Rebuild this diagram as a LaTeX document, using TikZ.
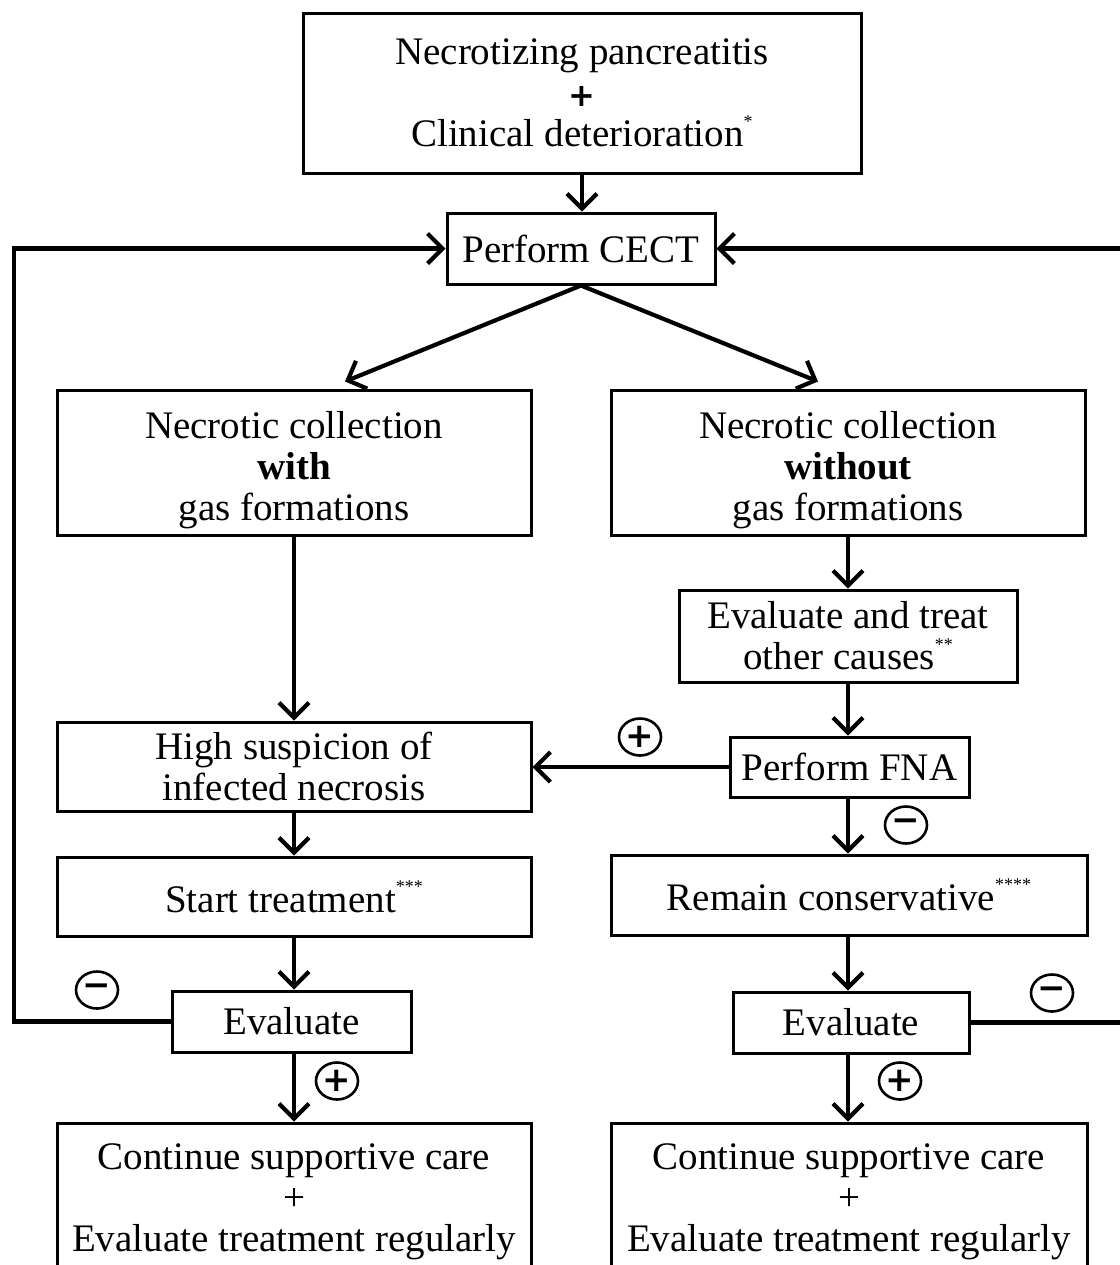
\documentclass[tikz,border=0pt]{standalone}
\usepackage{fontspec}
\setmainfont{Liberation Serif}
\newfontfamily\signfont{DejaVu Sans}
\usetikzlibrary{arrows.meta,shapes.geometric}
\newcommand{\noteast}[1]{\raisebox{1.1ex}{\fontsize{9}{9}\selectfont #1}}
\begin{document}
\begin{tikzpicture}[x=0.5pt,y=-0.5pt,
  box/.style={draw,line width=1.5pt,align=center,inner sep=0pt,font=\fontsize{19.5}{20.5}\selectfont},
  arr/.style={line width=2.1pt,-{Straight Barb[length=7.5pt,width=15pt,line width=2.1pt]}},
  sign/.style={ellipse,draw,line width=1.3pt,minimum width=21pt,minimum height=18.5pt,inner sep=0pt,font=\signfont\bfseries\fontsize{17}{17}\selectfont}]
\useasboundingbox (0,0) rectangle (1120,1265);
\fill[white] (0,0) rectangle (1120,1265);
\clip (0,0) rectangle (1120,1265);
% boxes
\node[box,minimum width=279pt,minimum height=80pt] (top) at (582,93) {Necrotizing pancreatitis\\ \raisebox{-0.5pt}[0pt][0pt]{\signfont\bfseries\fontsize{16}{20.5}\selectfont +}\\ Clinical deterioration\noteast{*}};
\node[box,minimum width=134pt,minimum height=35.5pt] (cect) at (581,248.5) {Perform CECT};
\node[box,minimum width=237pt,minimum height=72.5pt] (lc) at (294,462.5) {\rule{0pt}{21pt}Necrotic collection\\ \textbf{with}\\ gas formations};
\node[box,minimum width=237pt,minimum height=72.5pt] (rc) at (848,462.5) {\rule{0pt}{21pt}Necrotic collection\\ \textbf{without}\\ gas formations};
\node[box,minimum width=169pt,minimum height=46pt] (evt) at (848,636) {Evaluate and treat\\ other causes\noteast{**}};
\node[box,minimum width=119.5pt,minimum height=30pt] (fna) at (849.5,767) {Perform FNA};
\node[box,minimum width=237pt,minimum height=44.5pt] (hs) at (294,766.5) {High suspicion of\\ infected necrosis};
\node[box,minimum width=237pt,minimum height=39.5pt] (st) at (294,896.5) {Start treatment\noteast{***}};
\node[box,minimum width=119.5pt,minimum height=30.5pt] (evl) at (291.5,1021.5) {Evaluate};
\node[box,minimum width=238pt,minimum height=40pt] (rem) at (849,895) {Remain conservative\noteast{****}};
\node[box,minimum width=118pt,minimum height=30.5pt] (evr) at (851,1022.5) {Evaluate};
\node[box,minimum width=237pt,minimum height=79pt] (bl) at (294,1202) {Continue supportive care\\ +\\ Evaluate treatment regularly};
\node[box,minimum width=238pt,minimum height=79pt] (br) at (849,1202) {Continue supportive care\\ +\\ Evaluate treatment regularly};
% connectors
\draw[arr] (top.south) -- (top.south |- cect.north);
\draw[arr] (cect.south) -- ([xshift=25.5pt,yshift=3.5pt]lc.north);
\draw[arr] (cect.south) -- ([xshift=-15pt,yshift=3.5pt]rc.north);
\draw[arr] (lc.south) -- (hs.north);
\draw[arr] (rc.south) -- (evt.north);
\draw[arr] (evt.south) -- (evt.south |- fna.north);
\draw[arr] (fna.west) -- (fna.west -| hs.east);
\draw[arr] (hs.south) -- (st.north);
\draw[arr] (st.south) -- (st.south |- evl.north);
\draw[arr] (evl.south -| bl.north) -- (bl.north);
\draw[arr] (fna.south -| evt.south) -- (rem.north -| evt.south);
\draw[arr] (rem.south -| evt.south) -- (evr.north -| evt.south);
\draw[arr] (evr.south -| evt.south) -- (br.north -| evt.south);
\coordinate (ll) at (14,600);
\coordinate (rr) at (1126,600);
\draw[arr] (evl.west) -| (ll) |- (cect.west);
\draw[arr] (evr.east) -| (rr) |- (cect.east);
% signs
\node[sign] (s1) at (640,737) {+};
\node[sign] (s2) at (906,825) {−};
\node[sign] (s3) at (97,990) {−};
\node[sign] (s4) at (337,1081) {+};
\node[sign] (s5) at (1052,993) {−};
\node[sign] (s6) at (900,1081) {+};
\end{tikzpicture}
\end{document}
